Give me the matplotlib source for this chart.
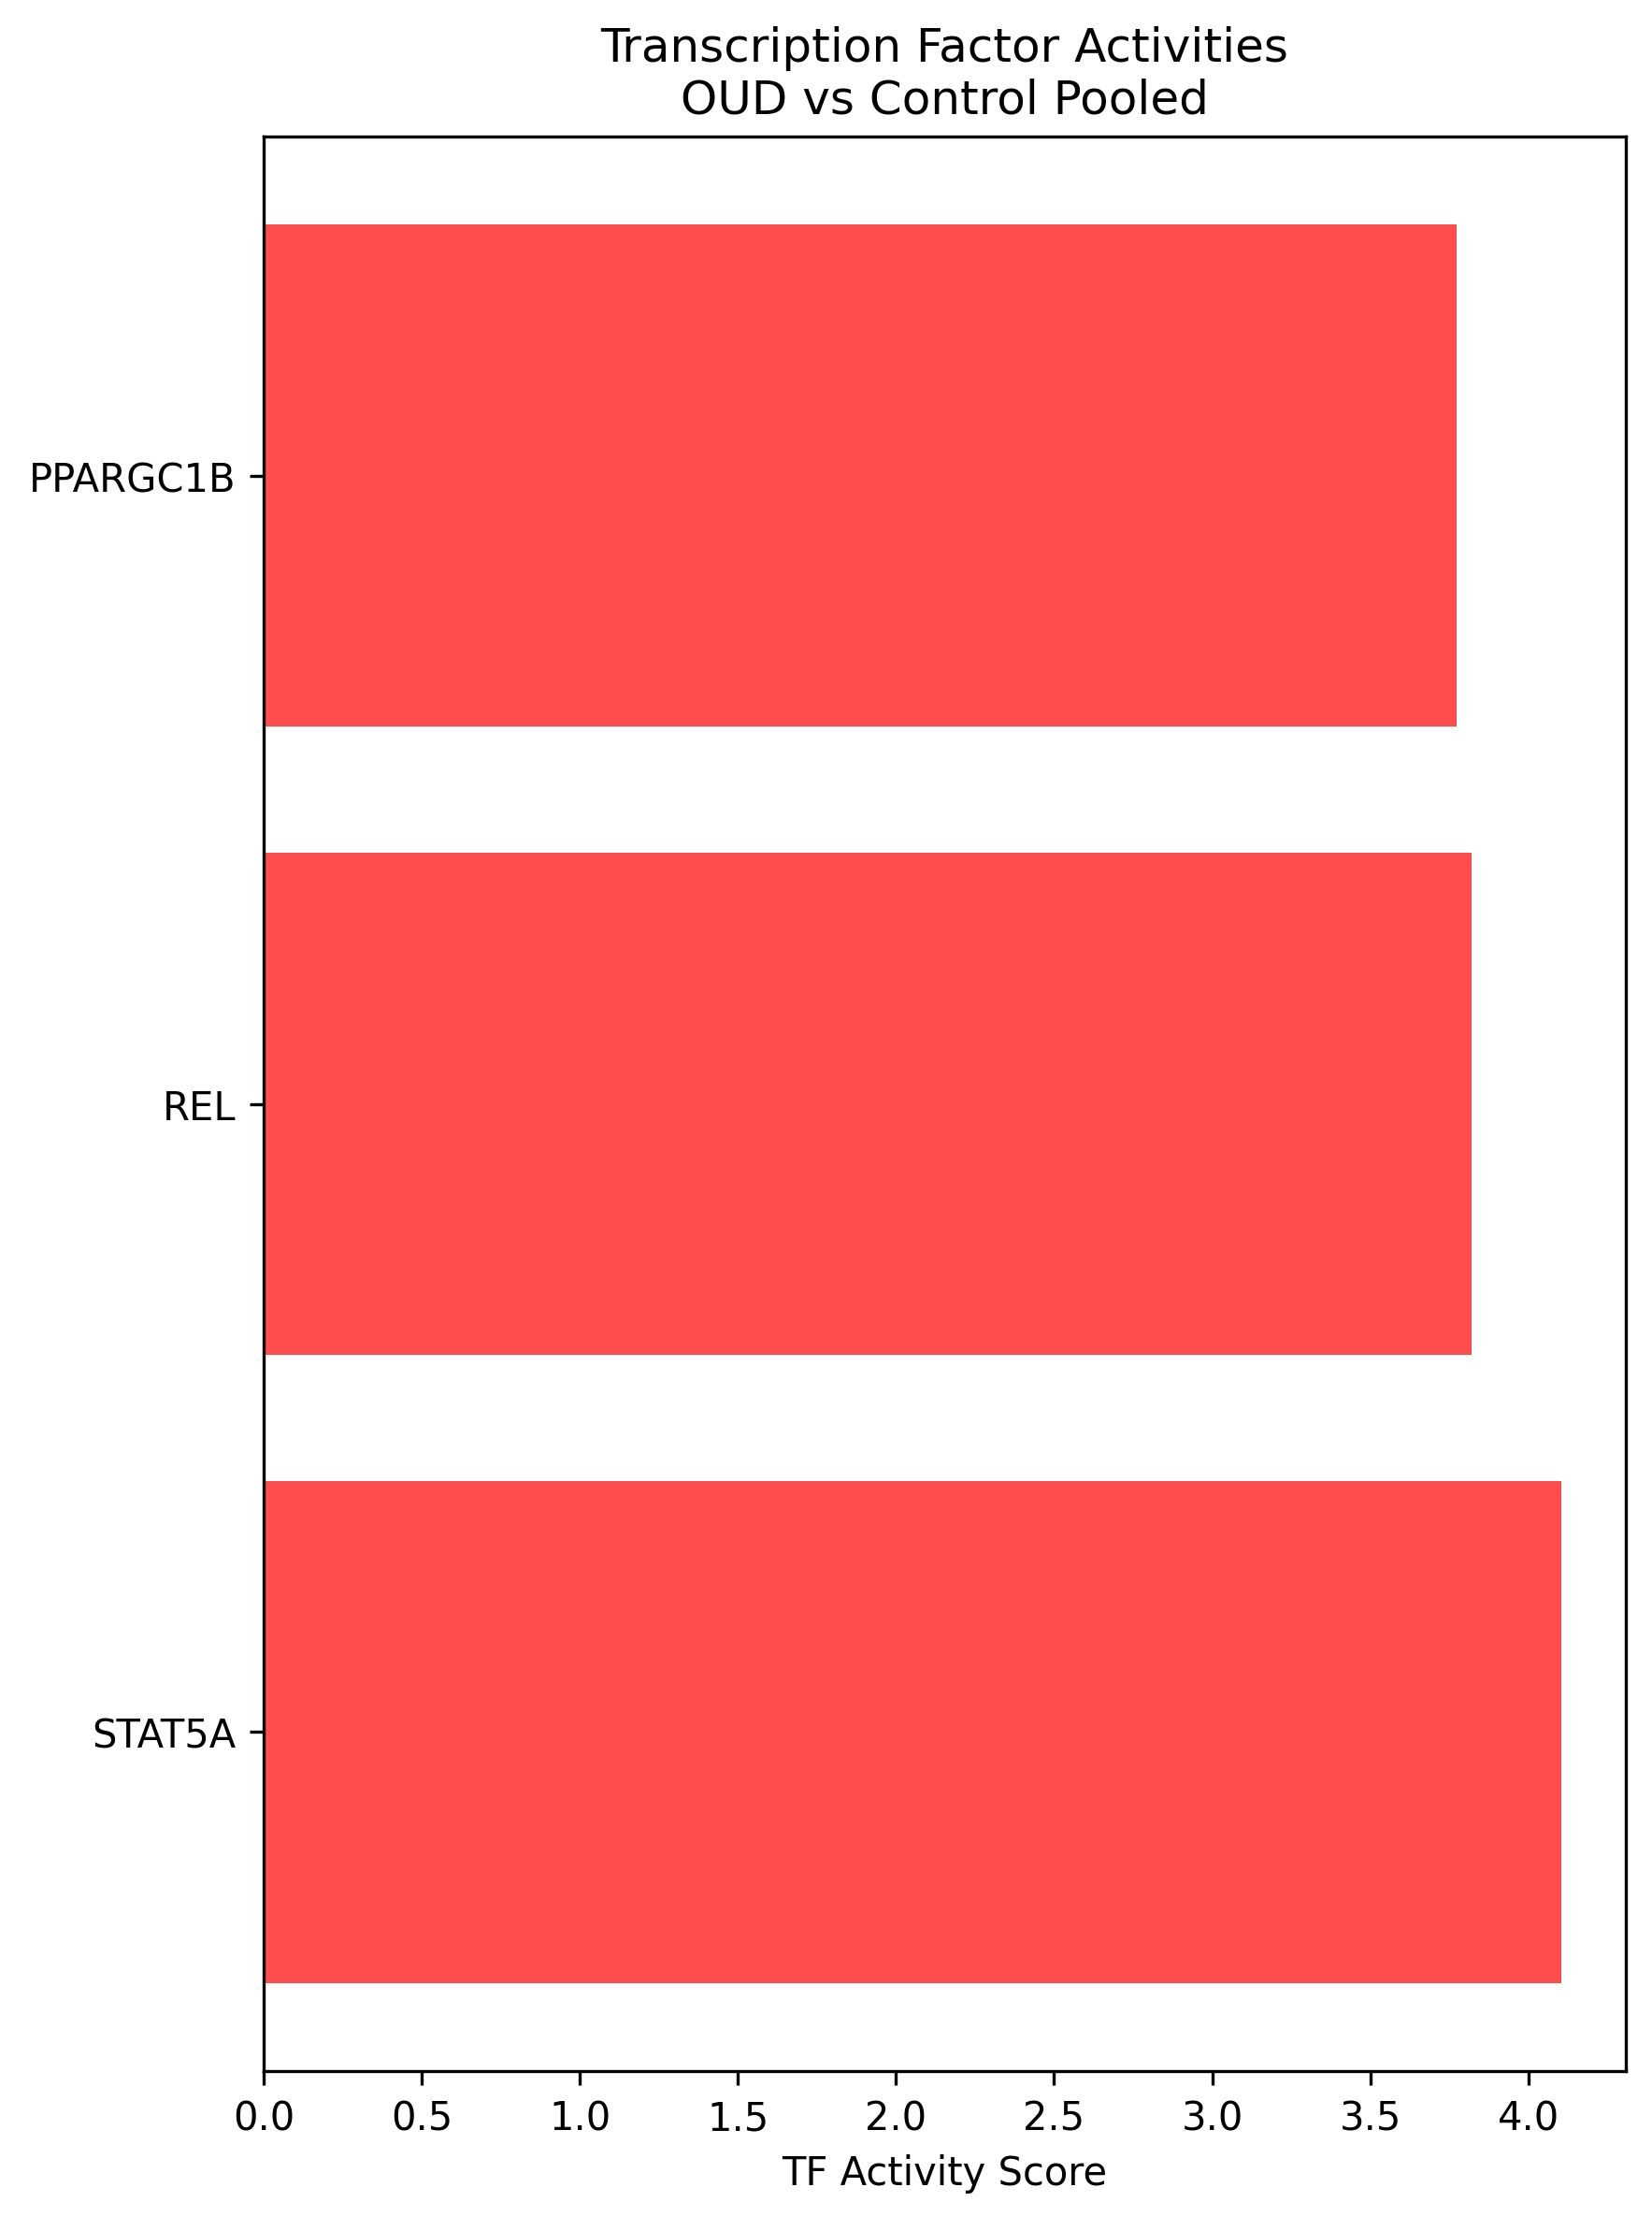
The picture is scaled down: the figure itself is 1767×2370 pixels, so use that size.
import matplotlib
matplotlib.use('Agg')
import matplotlib.pyplot as plt

# activités des facteurs de transcription (OUD vs contrôle)
tfs = ['STAT5A', 'REL', 'PPARGC1B']
scores = [4.103, 3.821, 3.774]

fig, ax = plt.subplots(figsize=(5.893, 7.903), dpi=300)
fig.subplots_adjust(left=0.1595, right=0.9836, top=0.938, bottom=0.0654)

ax.barh(tfs, scores, color='red', alpha=0.7)
ax.set_xlabel('TF Activity Score')
ax.set_title('Transcription Factor Activities\nOUD vs Control Pooled')

fig.savefig('out.png', dpi=300)
